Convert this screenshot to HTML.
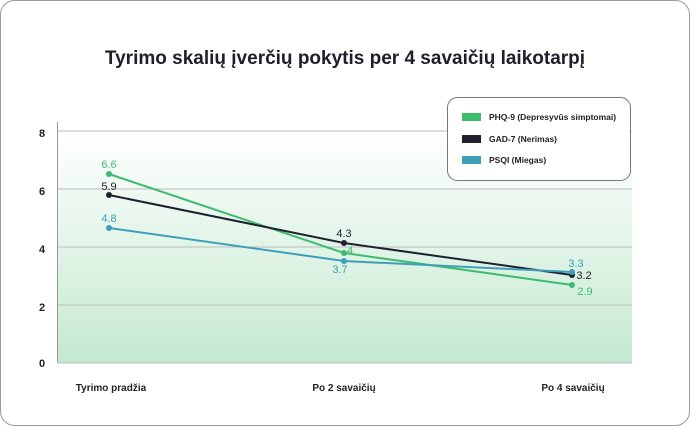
<!DOCTYPE html>
<html><head><style>
body{margin:0;background:#fff;}
svg{display:block;font-family:"Liberation Sans",sans-serif;}
</style></head><body>
<svg width="690" height="426" viewBox="0 0 690 426">
<defs><linearGradient id="g" x1="0" y1="0" x2="0" y2="1">
<stop offset="0" stop-color="#ffffff"/><stop offset="1" stop-color="#c4e9d0"/></linearGradient></defs>
<rect x="0.5" y="0.5" width="689" height="425" rx="14" fill="#fff" stroke="#9a9aa8"/>
<text x="345" y="64" text-anchor="middle" font-size="19" font-weight="bold" fill="#1e1e2c">Tyrimo skalių įverčių pokytis per 4 savaičių laikotarpį</text>
<rect x="58" y="131" width="574" height="232" fill="url(#g)"/>
<g stroke="#bdbdbd" stroke-width="1">
<line x1="58" y1="131" x2="632" y2="131"/><line x1="58" y1="189" x2="632" y2="189"/>
<line x1="58" y1="247" x2="632" y2="247"/><line x1="58" y1="305" x2="632" y2="305"/>
<line x1="58" y1="363" x2="632" y2="363"/></g>
<line x1="57.5" y1="122" x2="57.5" y2="363" stroke="#999"/>
<g font-size="11" font-weight="bold" fill="#222" text-anchor="middle">
<text x="42" y="137">8</text><text x="42" y="195">6</text><text x="42" y="253">4</text><text x="42" y="311">2</text><text x="42" y="367">0</text>
<text x="111" y="391" font-size="10">Tyrimo pradžia</text><text x="344" y="391" font-size="10">Po 2 savaičių</text><text x="573" y="391" font-size="10">Po 4 savaičių</text></g>
<g fill="none" stroke-width="2">
<polyline points="109,174 344,253 572,285" stroke="#3dbb6e"/>
<polyline points="109,195 344,243 572,275" stroke="#1f1f2e"/>
<polyline points="109,228 344,261 572,272" stroke="#3f9fb8"/></g>
<g fill="#3dbb6e"><circle cx="109" cy="174" r="3"/><circle cx="344" cy="253" r="3"/><circle cx="572" cy="285" r="3"/></g>
<g fill="#1f1f2e"><circle cx="109" cy="195" r="3"/><circle cx="344" cy="243" r="3"/><circle cx="572" cy="275" r="3"/></g>
<g fill="#3f9fb8"><circle cx="109" cy="228" r="3"/><circle cx="344" cy="261" r="3"/><circle cx="572" cy="272" r="3"/></g>
<g font-size="11" text-anchor="middle">
<text x="109" y="168" fill="#3dbb6e">6.6</text><text x="109" y="190" fill="#1f1f2e">5.9</text><text x="109" y="222" fill="#3f9fb8">4.8</text>
<text x="350" y="254" fill="#3dbb6e">4</text><text x="344" y="237" fill="#1f1f2e">4.3</text><text x="340" y="273" fill="#3f9fb8">3.7</text>
<text x="576" y="267" fill="#3f9fb8">3.3</text><text x="584" y="279" fill="#1f1f2e">3.2</text><text x="585" y="295" fill="#3dbb6e">2.9</text></g>
<rect x="447.5" y="97.5" width="183" height="83" rx="10" fill="#fff" stroke="#777"/>
<rect x="462" y="113" width="19" height="8" fill="#3dbb6e"/>
<rect x="462" y="135" width="19" height="8" fill="#1f1f2e"/>
<rect x="462" y="156" width="19" height="8" fill="#3f9fb8"/>
<g font-size="8.5" font-weight="bold" fill="#222">
<text x="489" y="120">PHQ-9 (Depresyvūs simptomai)</text>
<text x="489" y="142">GAD-7 (Nerimas)</text>
<text x="489" y="163">PSQI (Miegas)</text></g>
</svg>
</body></html>
